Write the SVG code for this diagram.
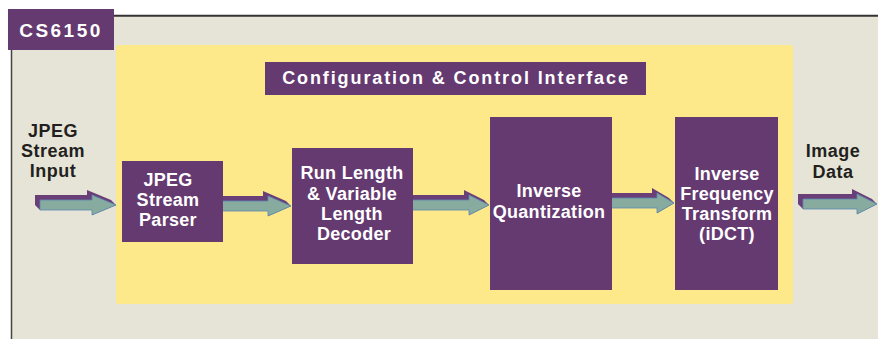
<svg xmlns="http://www.w3.org/2000/svg" width="878" height="339" viewBox="0 0 878 339">
  <style>
    .blk { fill: #643a70; }
    .lbl { font-family: "Liberation Sans", Arial, sans-serif; font-weight: bold; font-size: 18px; letter-spacing: 0.3px; fill: #ffffff; text-anchor: middle; }
    .ext { font-family: "Liberation Sans", Arial, sans-serif; font-weight: bold; font-size: 18px; letter-spacing: 0.5px; fill: #231f20; text-anchor: middle; }
    .side { fill: #6a3f78; }
    .face { fill: #87ac9f; stroke: #5a86b0; stroke-width: 0.8; stroke-linejoin: miter; }
  </style>

  <!-- outer chip panel -->
  <rect x="12" y="16" width="866" height="323" fill="#e6e4d6"/>
  <line x1="11" y1="15.8" x2="878" y2="15.8" stroke="#333333" stroke-width="2"/>
  <line x1="11.5" y1="15" x2="11.5" y2="339" stroke="#444444" stroke-width="1.5"/>

  <!-- core area -->
  <rect x="116" y="45" width="677" height="259" rx="3" fill="#fde98a"/>

  <!-- block-to-block data flow arrows (3D style) -->
  <g id="connectors">
    <g id="arrow-in">
      <polygon class="side" points="35,195 87,195 87,190 111,200 116,205 92,215 92,210 40,210 35,205"/>
      <polygon class="face" points="40,200 92,200 92,195 116,205 92,215 92,210 40,210"/>
    </g>
    <g id="arrow-parser-rld">
      <polygon class="side" points="213,196 263,196 263,191 286,201 291,206 268,216 268,211 218,211 213,206"/>
      <polygon class="face" points="218,201 268,201 268,196 291,206 268,216 268,211 218,211"/>
    </g>
    <g id="arrow-rld-iq">
      <polygon class="side" points="403,195 464,195 464,190 484,200 489,205 469,215 469,210 408,210 403,205"/>
      <polygon class="face" points="408,200 469,200 469,195 489,205 469,215 469,210 408,210"/>
    </g>
    <g id="arrow-iq-idct">
      <polygon class="side" points="602,193 652,193 652,188 669,198 674,203 657,213 657,208 607,208 602,203"/>
      <polygon class="face" points="607,198 657,198 657,193 674,203 657,213 657,208 607,208"/>
    </g>
    <g id="arrow-out">
      <polygon class="side" points="798,194 852,194 852,189 872,199 877,204 857,214 857,209 803,209 798,204"/>
      <polygon class="face" points="803,199 857,199 857,194 877,204 857,214 857,209 803,209"/>
    </g>
  </g>

  <g id="chip-label">
    <rect class="blk" x="8" y="9" width="106" height="41"/>
    <text x="61" y="37" font-family="Liberation Sans, Arial, sans-serif" font-weight="bold" font-size="19" letter-spacing="2.5" fill="#ffffff" text-anchor="middle">CS6150</text>
  </g>

  <g id="config-interface">
    <rect class="blk" x="265" y="62" width="381" height="33"/>
    <text x="456" y="84" font-family="Liberation Sans, Arial, sans-serif" font-weight="bold" font-size="18" letter-spacing="1.9" fill="#ffffff" text-anchor="middle">Configuration &amp; Control Interface</text>
  </g>

  <g id="input-label">
    <text class="ext" x="53" y="137">JPEG</text>
    <text class="ext" x="53" y="157">Stream</text>
    <text class="ext" x="53" y="177">Input</text>
  </g>

  <g id="stream-parser">
    <rect class="blk" x="122" y="161" width="101" height="81"/>
    <text class="lbl" x="168" y="186">JPEG</text>
    <text class="lbl" x="168" y="206">Stream</text>
    <text class="lbl" x="168" y="226">Parser</text>
  </g>

  <g id="vl-decoder">
    <rect class="blk" x="292" y="148" width="121" height="116"/>
    <text class="lbl" x="352" y="179">Run Length</text>
    <text class="lbl" x="352" y="200">&amp; Variable</text>
    <text class="lbl" x="352" y="220">Length</text>
    <text class="lbl" x="354" y="240">Decoder</text>
  </g>

  <g id="inverse-quant">
    <rect class="blk" x="490" y="117" width="122" height="173"/>
    <text class="lbl" x="549" y="197">Inverse</text>
    <text class="lbl" x="549" y="218">Quantization</text>
  </g>

  <g id="idct">
    <rect class="blk" x="675" y="117" width="103" height="173"/>
    <text class="lbl" x="727" y="180">Inverse</text>
    <text class="lbl" x="727" y="200">Frequency</text>
    <text class="lbl" x="727" y="220">Transform</text>
    <text class="lbl" x="727" y="240">(iDCT)</text>
  </g>

  <g id="output-label">
    <text class="ext" x="833" y="157">Image</text>
    <text class="ext" x="833" y="178">Data</text>
  </g>
</svg>
